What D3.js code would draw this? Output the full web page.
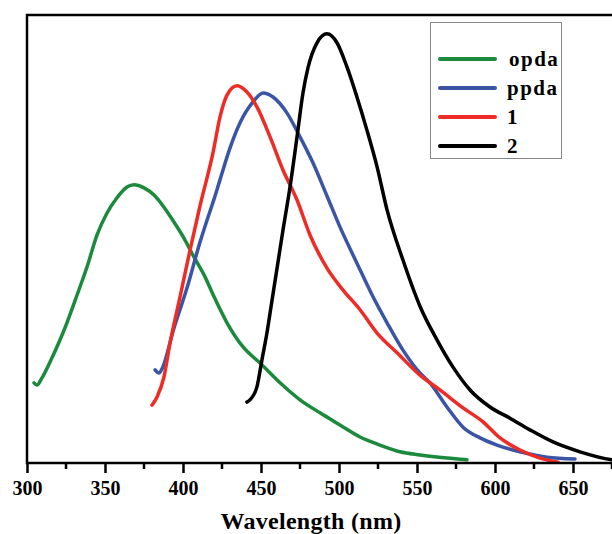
<!DOCTYPE html>
<html>
<head>
<meta charset="utf-8">
<script src="https://cdn.jsdelivr.net/npm/d3@7"></script>
<style>
  body { margin: 0; background: #fff; }
  text { font-family: "Liberation Serif", "Times New Roman", serif; font-weight: bold; }
</style>
</head>
<body>
<div id="chart"></div>
<script>
// wavelength (nm) and intensity (a.u.)
const opdaX = [304.5, 306.4, 309.6, 314.7, 321.2, 325.6, 332.1, 338.5, 344.9, 351.3, 357.7, 364.1, 368.6, 375, 381.4, 387.8, 394.2, 400.6, 407, 413.5, 419.9, 428.2, 438.5, 449.4, 462.2, 475, 487.8, 500.6, 513.5, 526.3, 539.1, 551.9, 569.2, 582];
const opdaY = [17.9, 17.4, 19.0, 22.5, 27.5, 31.3, 37.5, 43.8, 50.9, 55.8, 59.2, 61.6, 62.1, 61.4, 59.8, 57.1, 53.8, 50.2, 46.0, 42.0, 37.1, 31.3, 25.9, 22.3, 17.9, 14.1, 11.2, 8.5, 5.8, 4.0, 2.5, 1.8, 1.1, 0.7];

const ppdaX = [382.1, 384.6, 386.5, 394.2, 402.6, 410.9, 415.4, 419.9, 423.7, 430.1, 436.5, 444.9, 451.3, 457.7, 466.7, 475, 483.3, 492.3, 500.6, 511.5, 521.8, 530.8, 541, 551.9, 558.3, 569.2, 579.5, 590.4, 601.3, 616, 633.3, 651.3];
const ppdaY = [20.8, 20.1, 21.0, 30.1, 39.1, 49.3, 54.2, 58.9, 63.2, 70.3, 75.9, 80.6, 82.6, 81.7, 78.1, 72.8, 67.0, 59.6, 52.7, 44.6, 37.1, 31.3, 25.2, 20.1, 17.9, 12.5, 8.0, 5.6, 4.0, 2.5, 1.3, 0.9];

const oneX = [380.1, 383.3, 387.8, 391.7, 398.1, 404.5, 410.9, 419.2, 423.7, 428.2, 434.6, 441, 447.4, 455.8, 464.1, 473.1, 481.4, 492.3, 502.6, 513.5, 524.4, 537.2, 551.9, 564.7, 579.5, 592.3, 603.2, 616, 628.8, 640.4];
const oneY = [12.9, 14.7, 19.2, 26.8, 37.1, 47.5, 57.4, 69.2, 77.2, 82.1, 84.2, 82.8, 79.5, 72.8, 65.4, 58.7, 50.9, 43.5, 38.6, 34.2, 29.0, 24.6, 19.6, 16.3, 12.3, 9.2, 5.6, 2.9, 1.1, 0.2];

const twoX = [441, 442.9, 447.4, 450.6, 453.8, 457.1, 460.3, 464.1, 468.6, 473.1, 476.9, 480.1, 485.9, 492.3, 498.7, 505.1, 511.5, 517.9, 524.4, 530.8, 541, 551.9, 562.8, 573.1, 584, 596.8, 609.6, 622.4, 637.2, 654.5, 675, 685];
const twoY = [13.6, 14.1, 17.0, 23.0, 29.0, 36.4, 43.5, 52.0, 61.6, 72.8, 82.6, 88.2, 93.8, 95.8, 93.8, 88.4, 81.7, 74.3, 66.1, 56.5, 45.3, 35.0, 27.5, 21.4, 16.3, 12.5, 10.0, 7.4, 4.7, 2.5, 0.7, 0.3];

const seriesNames = ["opda", "ppda", "1", "2"];
const seriesColors = ["#1b8a3c", "#3a54a6", "#ef2b25", "#000000"];
const xTicks = [300, 350, 400, 450, 500, 550, 600, 650];
const xMinor = [325, 375, 425, 475, 525, 575, 625, 675];

const series = [
  {name: seriesNames[0], x: opdaX, y: opdaY, color: seriesColors[0]},
  {name: seriesNames[1], x: ppdaX, y: ppdaY, color: seriesColors[1]},
  {name: seriesNames[2], x: oneX, y: oneY, color: seriesColors[2]},
  {name: seriesNames[3], x: twoX, y: twoY, color: seriesColors[3]}
];

const W = 612, H = 534;
const margin = {top: 15, left: 27, bottom: 71};
const plotH = H - margin.top - margin.bottom;

const x = d3.scaleLinear().domain([300, 680]).range([margin.left, margin.left + 380 * 1.56]);
const y = d3.scaleLinear().domain([0, 100]).range([margin.top + plotH, margin.top]);

const svg = d3.select("#chart").append("svg")
  .attr("width", W)
  .attr("height", H);

svg.append("clipPath").attr("id", "plotClip")
  .append("rect")
  .attr("x", x(300)).attr("y", margin.top)
  .attr("width", x(680) - x(300)).attr("height", plotH);

const line = d3.line()
  .x(d => x(d[0]))
  .y(d => y(d[1]))
  .curve(d3.curveMonotoneX);

const lines = svg.append("g").attr("clip-path", "url(#plotClip)");
series.forEach(s => {
  lines.append("path")
    .datum(s.x.map((v, i) => [v, s.y[i]]))
    .attr("d", line)
    .attr("fill", "none")
    .attr("stroke", s.color)
    .attr("stroke-width", 3.5)
    .attr("stroke-linejoin", "round")
    .attr("stroke-linecap", "round");
});

// frame
svg.append("rect")
  .attr("x", x(300)).attr("y", margin.top)
  .attr("width", x(680) - x(300)).attr("height", plotH)
  .attr("fill", "none")
  .attr("stroke", "#000")
  .attr("stroke-width", 2.5);

// bottom axis
const xAxis = d3.axisBottom(x)
  .tickValues(xTicks)
  .tickSize(10)
  .tickSizeOuter(0);

const gx = svg.append("g")
  .attr("transform", "translate(0," + (margin.top + plotH) + ")")
  .call(xAxis);
gx.select(".domain").remove();
gx.selectAll(".tick line").attr("stroke", "#000").attr("stroke-width", 2.5);
gx.selectAll(".tick text")
  .attr("fill", "#000")
  .attr("y", 32)
  .attr("dy", null)
  .style("font-size", "20px")
  .style("font-family", "'Liberation Serif', serif")
  .style("font-weight", "bold");

gx.selectAll(".minor")
  .data(xMinor)
  .enter().append("line")
  .attr("class", "minor")
  .attr("x1", d => x(d)).attr("x2", d => x(d))
  .attr("y1", 0).attr("y2", 6)
  .attr("stroke", "#000")
  .attr("stroke-width", 2.5);

svg.append("text")
  .attr("x", 311)
  .attr("y", 529)
  .attr("text-anchor", "middle")
  .style("font-size", "24px")
  .style("letter-spacing", "0.3px")
  .text("Wavelength (nm)");

// legend
const legend = svg.append("g");
legend.append("rect")
  .attr("x", 430.5).attr("y", 22.5)
  .attr("width", 131).attr("height", 136)
  .attr("fill", "#fff")
  .attr("stroke", "#888")
  .attr("stroke-width", 1);

series.forEach((s, i) => {
  const ly = 59 + i * 29;
  legend.append("line")
    .attr("x1", 440).attr("x2", 495)
    .attr("y1", ly).attr("y2", ly)
    .attr("stroke", s.color)
    .attr("stroke-width", 4)
    .attr("stroke-linecap", "round");
  legend.append("text")
    .attr("x", i === 0 ? 509 : 507)
    .attr("y", ly + 7)
    .style("font-size", "21px")
    .style("letter-spacing", "1.5px")
    .text(s.name);
});
</script>
</body>
</html>
